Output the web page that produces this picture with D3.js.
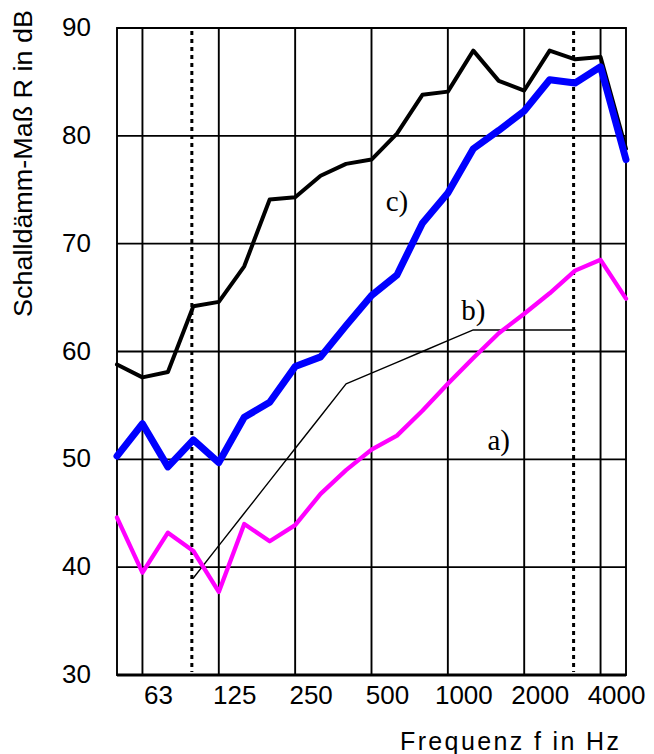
<!DOCTYPE html>
<html>
<head>
<meta charset="utf-8">
<script src="https://cdn.jsdelivr.net/npm/d3@7"></script>
<style>
  html, body { margin: 0; padding: 0; background: #fff; }
  svg { display: block; }
</style>
</head>
<body>
<svg id="chart" width="654" height="754"></svg>
<script>
// Third-octave band centre frequencies (Hz)
const bands = ["50","63","80","100","125","160","200","250","315","400","500",
               "630","800","1000","1250","1600","2000","2500","3150","4000","5000"];

// Octave bands that carry a grid line and a label
const octaveTicks = ["63","125","250","500","1000","2000","4000"];

// Edges of the evaluation range (dotted lines)
const rangeEdges = ["100","3150"];

// Sound reduction index R in dB
const yTicks = [30, 40, 50, 60, 70, 80, 90];

// a) single leaf
const seriesA = [44.6, 39.5, 43.2, 41.5, 37.7, 44.0, 42.4, 43.9, 46.8, 49.0, 50.9,
                 52.2, 54.5, 57.0, 59.4, 61.7, 63.5, 65.4, 67.5, 68.5, 64.9];

// b) shifted reference curve (100 – 3150 Hz)
const refBands = ["100","125","160","200","250","315","400","500","630","800",
                  "1000","1250","1600","2000","2500","3150"];
const seriesB  = [39, 42, 45, 48, 51, 54, 57, 58, 59, 60, 61, 62, 62, 62, 62, 62];

// c) upper black curve
const seriesC = [58.8, 57.6, 58.1, 64.2, 64.6, 67.9, 74.1, 74.3, 76.3, 77.4, 77.8,
                 80.2, 83.8, 84.1, 87.9, 85.1, 84.2, 87.9, 87.1, 87.3, 78.8];

// blue curve
const seriesD = [50.3, 53.3, 49.3, 51.8, 49.7, 53.9, 55.3, 58.6, 59.5, 62.4, 65.2,
                 67.1, 71.9, 74.7, 78.8, 80.5, 82.3, 85.2, 84.9, 86.4, 77.8];

// Curve labels, anchored at band / level
const curveLabels = [
  { text: "c)", band: "630",  level: 73.0 },
  { text: "b)", band: "1250", level: 62.9 },
  { text: "a)", band: "1600", level: 50.9 }
];

const svg = d3.select("#chart");
const plotL = 117, plotR = 626, plotT = 28, plotB = 675;

const x = d3.scalePoint().domain(bands).range([plotL, plotR]);
const y = d3.scaleLinear().domain([30, 90]).range([plotB, plotT]);

const sans = "'Liberation Sans', Arial, Helvetica, sans-serif";
const serif = "'Liberation Serif', 'Times New Roman', Times, serif";

// Horizontal grid
svg.append("g")
  .selectAll("line")
  .data(yTicks)
  .join("line")
  .attr("x1", plotL).attr("x2", plotR)
  .attr("y1", d => y(d)).attr("y2", d => y(d))
  .attr("stroke", "#000").attr("stroke-width", 1.9);

// Vertical octave grid
svg.append("g")
  .selectAll("line")
  .data(octaveTicks)
  .join("line")
  .attr("x1", d => x(d)).attr("x2", d => x(d))
  .attr("y1", plotT).attr("y2", plotB)
  .attr("stroke", "#000").attr("stroke-width", 1.9);

// Frame
svg.append("rect")
  .attr("x", plotL).attr("y", plotT)
  .attr("width", plotR - plotL).attr("height", plotB - plotT)
  .attr("fill", "none").attr("stroke", "#000").attr("stroke-width", 1.9);
svg.append("line")
  .attr("x1", plotL).attr("x2", plotR)
  .attr("y1", plotB).attr("y2", plotB)
  .attr("stroke", "#000").attr("stroke-width", 3);

// Dotted range limits
svg.append("g")
  .selectAll("line")
  .data(rangeEdges)
  .join("line")
  .attr("x1", d => x(d) - 1.5).attr("x2", d => x(d) - 1.5)
  .attr("y1", plotT + 3).attr("y2", plotB - 3)
  .attr("stroke", "#000").attr("stroke-width", 3)
  .attr("stroke-dasharray", "4,4");

// Y tick labels
svg.append("g")
  .selectAll("text")
  .data(yTicks)
  .join("text")
  .attr("x", 91)
  .attr("y", d => y(d) - 1)
  .attr("dy", "0.35em")
  .attr("text-anchor", "end")
  .attr("font-family", sans)
  .attr("font-size", 26)
  .attr("fill", "#000")
  .text(d => d);

// X tick labels
svg.append("g")
  .selectAll("text")
  .data(octaveTicks)
  .join("text")
  .attr("x", d => x(d) + 16)
  .attr("y", 704)
  .attr("text-anchor", "middle")
  .attr("font-family", sans)
  .attr("font-size", 26)
  .attr("fill", "#000")
  .text(d => d);

// Axis titles
svg.append("text")
  .attr("x", 400).attr("y", 750)
  .attr("font-family", sans)
  .attr("font-size", 25)
  .attr("fill", "#000")
  .attr("textLength", 219)
  .attr("lengthAdjust", "spacing")
  .text("Frequenz f in Hz");

svg.append("text")
  .attr("transform", "translate(32,317) rotate(-90)")
  .attr("x", 0).attr("y", 0)
  .attr("font-family", sans)
  .attr("font-size", 26)
  .attr("fill", "#000")
  .attr("textLength", 307)
  .attr("lengthAdjust", "spacingAndGlyphs")
  .text("Schalldämm-Maß R in dB");

// Curves
const line = d3.line()
  .x(d => x(d.band))
  .y(d => y(d.value));

function curve(bandList, values, color, width) {
  svg.append("path")
    .datum(bandList.map((b, i) => ({ band: b, value: values[i] })))
    .attr("d", line)
    .attr("fill", "none")
    .attr("stroke", color)
    .attr("stroke-width", width)
    .attr("stroke-linejoin", "round")
    .attr("stroke-linecap", "round");
}

curve(refBands, seriesB, "#000", 1.4);
curve(bands, seriesA, "#ff00ff", 4.3);
curve(bands, seriesC, "#000", 4);
curve(bands, seriesD, "#0000ff", 7);

// Curve labels
svg.append("g")
  .selectAll("text")
  .data(curveLabels)
  .join("text")
  .attr("x", d => x(d.band))
  .attr("y", d => y(d.level))
  .attr("text-anchor", "middle")
  .attr("font-family", serif)
  .attr("font-size", 29)
  .attr("fill", "#000")
  .text(d => d.text);
</script>
</body>
</html>
